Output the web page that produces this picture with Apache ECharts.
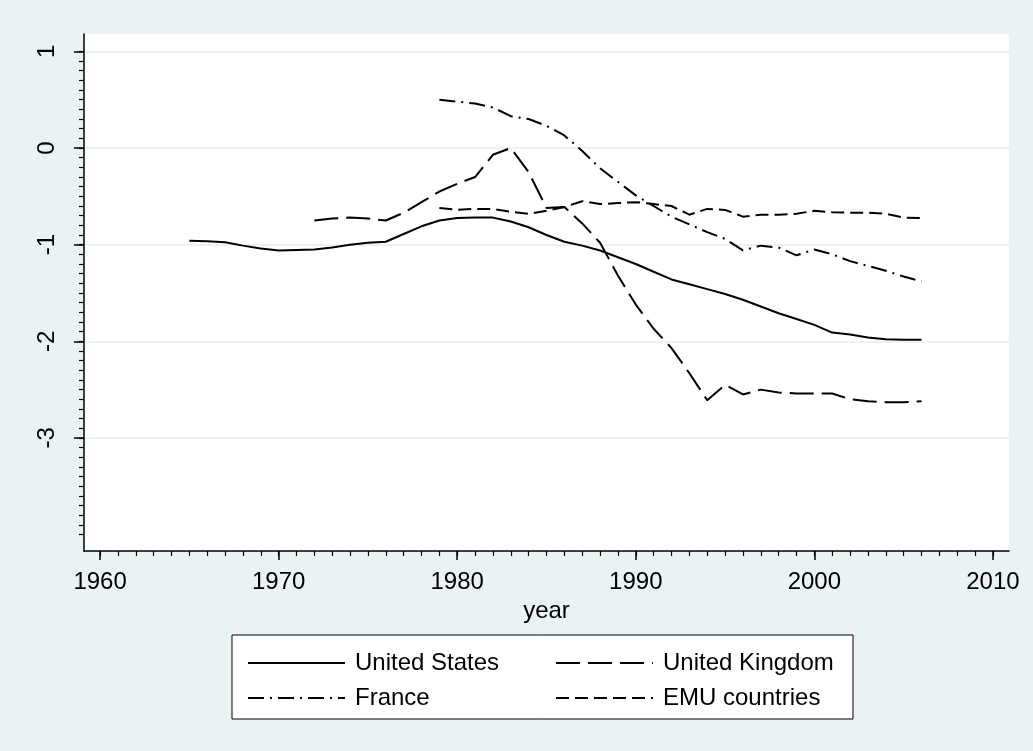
<!DOCTYPE html>
<html>
<head>
    <meta http-equiv="Content-Type" content="text/html; charset=utf-8">
    <title>year chart</title>
    <style>
        html, body { margin: 0; padding: 0; background: #EAF2F3; }
        #echarts_main { width: 1033px; height: 751px; }
    </style>
</head>
<body>
    <div id="echarts_main"></div>
    <script src="https://cdn.jsdelivr.net/npm/echarts@6/dist/echarts.min.js"></script>
    <script>
        // data
        var years = [1965, 1966, 1967, 1968, 1969, 1970, 1971, 1972, 1973, 1974, 1975, 1976, 1977, 1978, 1979,
            1980, 1981, 1982, 1983, 1984, 1985, 1986, 1987, 1988, 1989, 1990, 1991, 1992, 1993, 1994, 1995,
            1996, 1997, 1998, 1999, 2000, 2001, 2002, 2003, 2004, 2005, 2006];

        var us = [-0.96, -0.965, -0.975, -1.01, -1.04, -1.06, -1.055, -1.05, -1.03, -1.0, -0.98, -0.97, -0.89, -0.81, -0.75,
            -0.725, -0.72, -0.72, -0.76, -0.82, -0.9, -0.97, -1.01, -1.06, -1.13, -1.2, -1.28, -1.36, -1.41, -1.46, -1.51,
            -1.57, -1.64, -1.71, -1.77, -1.83, -1.91, -1.93, -1.96, -1.98, -1.985, -1.985];

        var uk = [null, null, null, null, null, null, null, -0.75, -0.73, -0.72, -0.73, -0.75, -0.67, -0.56, -0.45,
            -0.37, -0.3, -0.07, 0.0, -0.25, -0.62, -0.61, -0.78, -0.98, -1.32, -1.62, -1.87, -2.07, -2.33, -2.61, -2.45,
            -2.55, -2.5, -2.53, -2.54, -2.54, -2.54, -2.6, -2.62, -2.63, -2.63, -2.62];

        var france = [null, null, null, null, null, null, null, null, null, null, null, null, null, null, 0.5,
            0.48, 0.46, 0.42, 0.33, 0.3, 0.23, 0.13, -0.03, -0.21, -0.35, -0.49, -0.6, -0.71, -0.79, -0.87, -0.94,
            -1.06, -1.01, -1.03, -1.11, -1.05, -1.1, -1.17, -1.22, -1.27, -1.33, -1.38];

        var emu = [null, null, null, null, null, null, null, null, null, null, null, null, null, null, -0.62,
            -0.64, -0.63, -0.63, -0.66, -0.68, -0.65, -0.61, -0.55, -0.58, -0.57, -0.56, -0.58, -0.6, -0.69, -0.63, -0.64,
            -0.71, -0.69, -0.69, -0.68, -0.65, -0.665, -0.67, -0.67, -0.68, -0.72, -0.725];

        var xTicks = [1960, 1970, 1980, 1990, 2000, 2010];
        var yTicks = [1, 0, -1, -2, -3];

        // minor ticks: every year on x, every 0.1 on y
        var xMinor = [];
        for (var i = 1960; i <= 2010; i++) { xMinor.push(i); }
        var yMinor = [];
        for (var j = -40; j <= 10; j++) { yMinor.push(j / 10); }

        function pairs(vals) {
            var out = [];
            for (var k = 0; k < years.length; k++) {
                out.push([years[k], vals[k]]);
            }
            return out;
        }

        var font = "'Liberation Sans', Arial, Helvetica, sans-serif";
        var myChart = echarts.init(document.getElementById('echarts_main'));

        function lineSeries(name, vals, dash) {
            return {
                name: name,
                type: 'line',
                data: pairs(vals),
                showSymbol: false,
                symbol: 'none',
                connectNulls: false,
                animation: false,
                lineStyle: { color: '#000', width: 2, type: dash },
                itemStyle: { color: '#000' }
            };
        }

        function legendCol(left, names) {
            return {
                orient: 'vertical',
                left: left, top: 646,
                itemWidth: 97, itemHeight: 14, itemGap: 11,
                data: names,
                itemStyle: { opacity: 0 },
                textStyle: { fontSize: 24, lineHeight: 24, color: '#000', fontFamily: font, padding: [0, 0, 0, 5] }
            };
        }

        var option = {
            backgroundColor: '#EAF2F3',
            animation: false,
            textStyle: { fontFamily: font },
            grid: {
                left: 84, right: 24, top: 34, bottom: 200,
                show: true, backgroundColor: '#fff', borderWidth: 0
            },
            graphic: [{
                type: 'rect',
                shape: { x: 232, y: 635, width: 621, height: 84 },
                style: { fill: '#fff', stroke: '#000', lineWidth: 1 },
                z: 0
            }],
            legend: [
                legendCol(242, ['United States', 'France']),
                legendCol(550, ['United Kingdom', 'EMU countries'])
            ],
            xAxis: [{
                type: 'value',
                min: 1959.1, max: 2010.9,
                position: 'bottom',
                name: 'year',
                nameLocation: 'middle',
                nameGap: 40,
                nameTextStyle: { fontSize: 24, color: '#000', fontFamily: font },
                axisLine: { show: true, onZero: false, lineStyle: { color: '#000', width: 1.5 } },
                axisTick: { show: true, length: 9, customValues: xTicks, lineStyle: { color: '#000', width: 1.5 } },
                axisLabel: {
                    customValues: xTicks, fontSize: 24, color: '#000', margin: 19, fontFamily: font,
                    formatter: function (v) { return String(v); }
                },
                splitLine: { show: false }
            }, {
                type: 'value',
                min: 1959.1, max: 2010.9,
                position: 'bottom',
                axisLine: { show: false, onZero: false },
                axisTick: { show: true, length: 5, customValues: xMinor, lineStyle: { color: '#000', width: 1.2 } },
                axisLabel: { show: false },
                splitLine: { show: false }
            }],
            yAxis: [{
                type: 'value',
                min: -4.17, max: 1.18,
                position: 'left',
                axisLine: { show: true, onZero: false, lineStyle: { color: '#000', width: 1.5 } },
                axisTick: { show: true, length: 10, customValues: yTicks, lineStyle: { color: '#000', width: 1.5 } },
                axisLabel: {
                    customValues: yTicks, rotate: 90, fontSize: 24, color: '#000', margin: 25, fontFamily: font,
                    formatter: function (v) { return String(v); }
                },
                splitLine: { show: true, lineStyle: { color: '#EAF2F3', width: 2 } }
            }, {
                type: 'value',
                min: -4.17, max: 1.18,
                position: 'left',
                axisLine: { show: false, onZero: false },
                axisTick: { show: true, length: 5, customValues: yMinor, lineStyle: { color: '#000', width: 1.2 } },
                axisLabel: { show: false },
                splitLine: { show: false }
            }],
            series: [
                lineSeries('United States', us, 'solid'),
                lineSeries('United Kingdom', uk, [24, 8]),
                lineSeries('France', france, [16, 6, 2, 6]),
                lineSeries('EMU countries', emu, [13, 6])
            ]
        };

        myChart.setOption(option);
    </script>
</body>
</html>
